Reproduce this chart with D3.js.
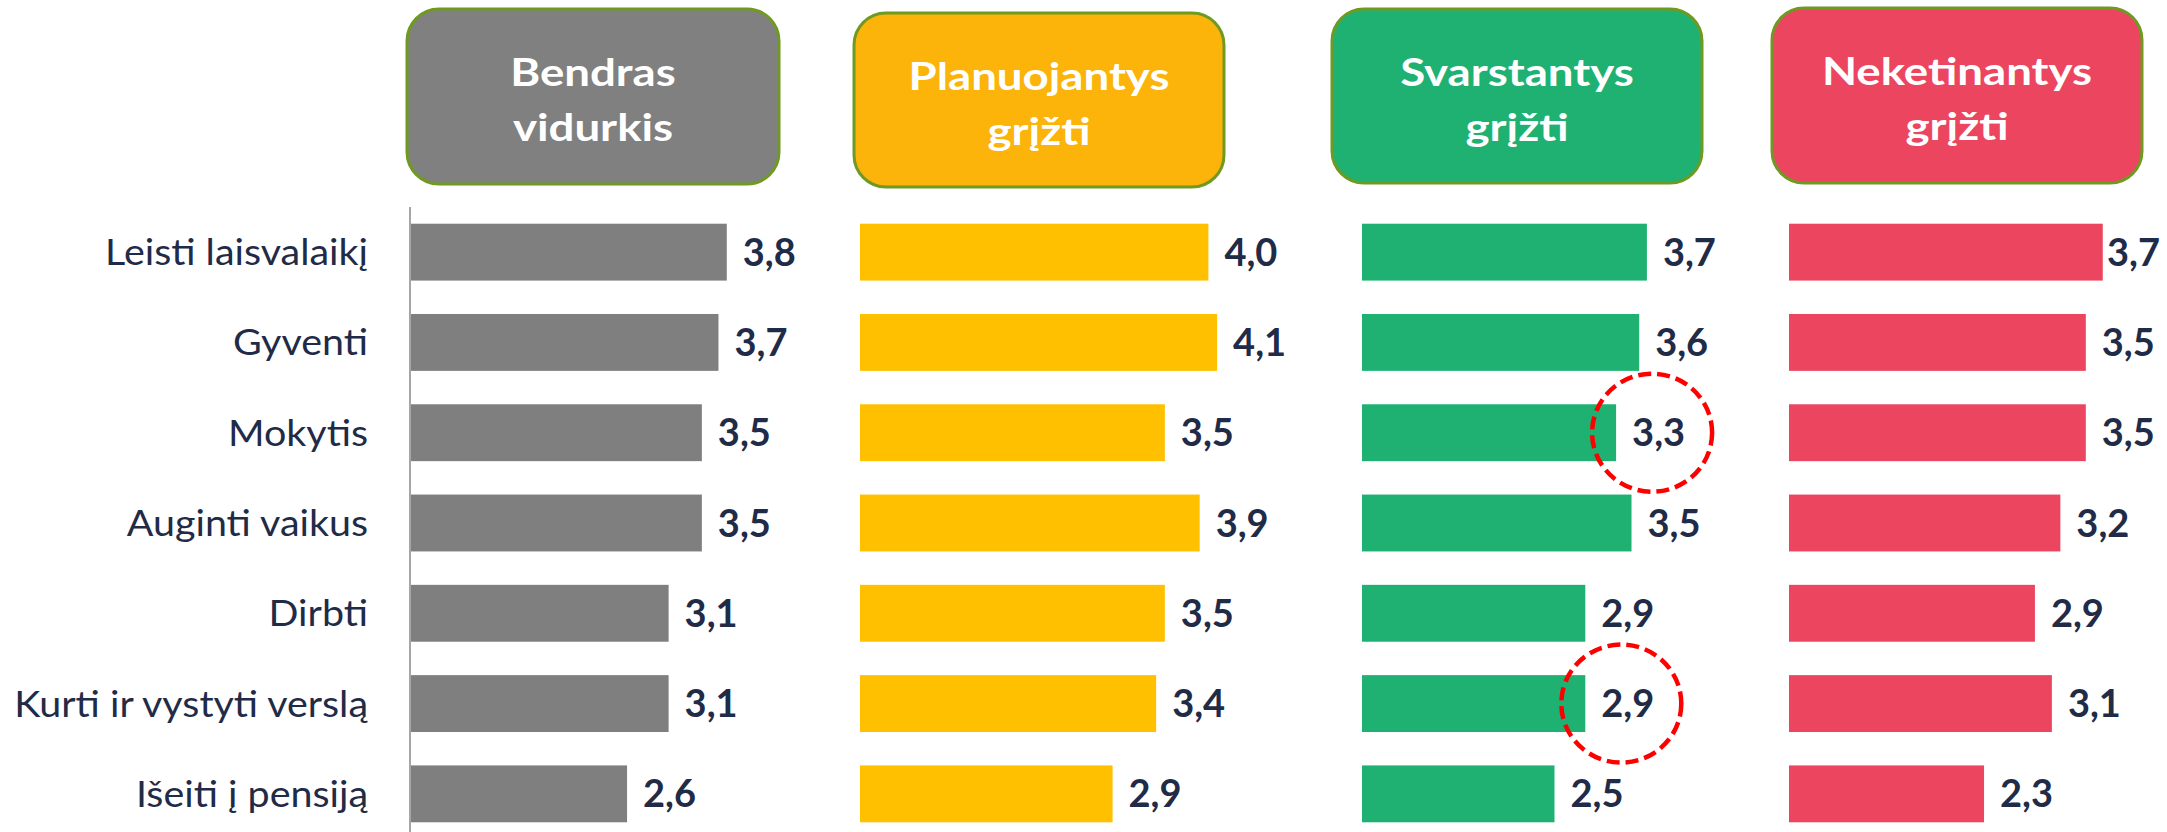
<!DOCTYPE html>
<html>
<head>
<meta charset="utf-8">
<script src="https://cdn.jsdelivr.net/npm/d3@7"></script>
<style>
  body { margin: 0; background: #fff; }
  svg { display: block; }
</style>
</head>
<body>
<div id="chart"></div>
<script>
// Data
const categories = ["Leisti laisvalaikį", "Gyventi", "Mokytis", "Auginti vaikus", "Dirbti", "Kurti ir vystyti verslą", "Išeiti į pensiją"];
const bendrasVidurkis = [3.8, 3.7, 3.5, 3.5, 3.1, 3.1, 2.6];
const planuojantys = [4.0, 4.1, 3.5, 3.9, 3.5, 3.4, 2.9];
const svarstantys = [3.7, 3.6, 3.3, 3.5, 2.9, 2.9, 2.5];
const neketinantys = [3.7, 3.5, 3.5, 3.2, 2.9, 3.1, 2.3];
const groupTitles = [["Bendras", "vidurkis"], ["Planuojantys", "grįžti"], ["Svarstantys", "grįžti"], ["Neketinantys", "grįžti"]];
// circled labels: group index + category
const highlighted = [
    { group: 2, category: "Mokytis" },
    { group: 2, category: "Kurti ir vystyti verslą" }
];

const W = 2167, H = 832;
const svg = d3.select("#chart").append("svg")
    .attr("width", W)
    .attr("height", H);

const series = [bendrasVidurkis, planuojantys, svarstantys, neketinantys];

// layout of the four small charts
const panels = [
    { x0: 411, ppu: 83.1, fill: "#7f7f7f", head: "#808080", box: [407, 9, 372, 175] },
    { x0: 860, ppu: 87.1, fill: "#ffc000", head: "#fcb30a", box: [854, 13, 370, 174] },
    { x0: 1362, ppu: 77.0, fill: "#1eb172", head: "#1eb172", box: [1332, 9, 370, 174] },
    { x0: 1789, ppu: 84.8, fill: "#ec455f", head: "#ec455f", box: [1772, 8, 370, 175] }
];

const yScale = d3.scaleBand()
    .domain(categories)
    .range([207, 839])
    .paddingInner(0.37)
    .paddingOuter(0.185);

const labelColor = "#1f2b47";
const rightLimit = 2160;

// category labels
svg.append("g")
    .attr("transform", "translate(368,0) scale(1.065,1)")
    .selectAll("text")
    .data(categories)
    .join("text")
    .attr("x", 0)
    .attr("y", d => yScale(d) + yScale.bandwidth() / 2 + 13)
    .attr("text-anchor", "end")
    .attr("font-family", "Lato, sans-serif")
    .attr("font-size", 37)
    .attr("fill", labelColor)
    .text(d => d);

// axis line of the first chart only
svg.append("line")
    .attr("x1", 410).attr("x2", 410)
    .attr("y1", 207).attr("y2", H)
    .attr("stroke", "#a6a6a6")
    .attr("stroke-width", 2);

panels.forEach((p, i) => {
    const values = series[i];
    const x = d3.scaleLinear().domain([0, 4.5]).range([p.x0, p.x0 + 4.5 * p.ppu]);
    p.x = x;
    const rows = categories.map((c, k) => ({ cat: c, v: values[k] }));

    // header box
    const [bx, by, bw, bh] = p.box;
    const head = svg.append("g");
    head.append("rect")
        .attr("x", bx).attr("y", by)
        .attr("width", bw).attr("height", bh)
        .attr("rx", 32).attr("ry", 32)
        .attr("fill", p.head)
        .attr("stroke", "#6f9a22")
        .attr("stroke-width", 3);
    const cx = bx + bw / 2;
    head.selectAll("text")
        .data(groupTitles[i])
        .join("text")
        .attr("x", 0)
        .attr("y", (d, k) => by + 77 + k * 55)
        .attr("transform", `translate(${cx},0) scale(1.2,1)`)
        .attr("text-anchor", "middle")
        .attr("font-family", "Lato, sans-serif")
        .attr("font-weight", "bold")
        .attr("font-size", 38)
        .attr("fill", "#fff")
        .text(d => d);

    const g = svg.append("g");
    g.selectAll("rect")
        .data(rows)
        .join("rect")
        .attr("x", x(0))
        .attr("y", d => yScale(d.cat))
        .attr("width", d => x(d.v) - x(0))
        .attr("height", yScale.bandwidth())
        .attr("fill", p.fill);

    g.selectAll("text")
        .data(rows)
        .join("text")
        .attr("y", d => yScale(d.cat) + yScale.bandwidth() / 2 + 13.5)
        .attr("font-family", "Lato, sans-serif")
        .attr("font-weight", "bold")
        .attr("font-size", 38)
        .attr("fill", labelColor)
        .text(d => d.v.toFixed(1).replace(".", ","))
        .attr("x", function (d) {
            const w = this.getComputedTextLength();
            return Math.min(x(d.v) + 16, rightLimit - w);
        });
});

// dashed red circles around highlighted labels
svg.append("g")
    .selectAll("ellipse")
    .data(highlighted)
    .join("ellipse")
    .attr("cx", d => panels[d.group].x(series[d.group][categories.indexOf(d.category)]) + 36)
    .attr("cy", d => yScale(d.category) + yScale.bandwidth() / 2)
    .attr("rx", 60)
    .attr("ry", 59)
    .attr("fill", "none")
    .attr("stroke", "#ff0000")
    .attr("stroke-width", 4.5)
    .attr("stroke-dasharray", "13 6");
</script>
</body>
</html>
